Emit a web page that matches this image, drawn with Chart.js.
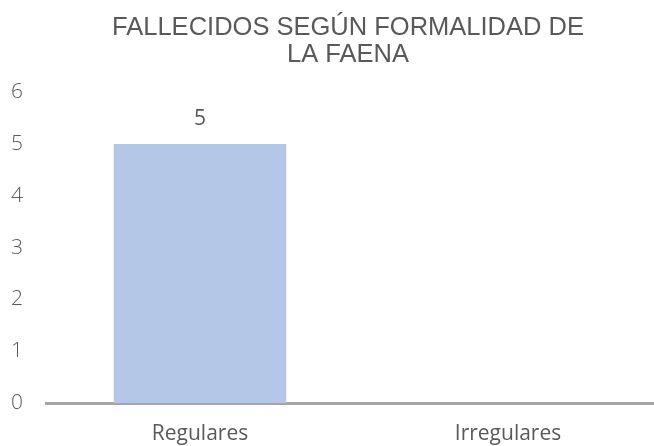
<!DOCTYPE html>
<html>
<head>
<meta charset="utf-8">
<script src="https://cdn.jsdelivr.net/npm/chart.js@4"></script>
<style>
  html, body { margin: 0; padding: 0; background: #fff; overflow: hidden; }
  #wrap { width: 664px; height: 446px; }
</style>
</head>
<body>
<div id="wrap"><canvas id="myChart"></canvas></div>
<script>
const categories = ['Regulares', 'Irregulares'];
const fallecidos = [5, 0];
const yTicks = [0, 1, 2, 3, 4, 5, 6];

const gray = '#595959';

// valor encima de cada barra (solo si > 0)
const valueLabels = {
  id: 'valueLabels',
  afterDatasetsDraw(chart) {
    const ctx = chart.ctx;
    const meta = chart.getDatasetMeta(0);
    ctx.save();
    ctx.font = '21px "Open Sans"';
    ctx.fillStyle = gray;
    ctx.textAlign = 'center';
    ctx.textBaseline = 'middle';
    meta.data.forEach((bar, i) => {
      const v = fallecidos[i];
      if (!v) return;
      ctx.fillText(String(v), bar.x, bar.y - 25);
    });
    ctx.restore();
  }
};

// el título del original queda un poco a la izquierda del centro del área
const titleShift = {
  id: 'titleShift',
  afterLayout(chart) {
    const t = chart.titleBlock;
    if (t) { t.left -= 6; t.right -= 6; }
  }
};

let config = {
  type: 'bar',
  data: {
    labels: categories,
    datasets: [{
      label: 'Fallecidos',
      data: fallecidos,
      backgroundColor: '#B4C7E7',
      borderWidth: 0,
      categoryPercentage: 1,
      barPercentage: 0.56
    }]
  },
  options: {
    responsive: true,
    maintainAspectRatio: false,
    animation: false,
    layout: { padding: { left: 11, right: 2, top: 0, bottom: 0 } },
    plugins: {
      legend: { display: false },
      tooltip: { enabled: false },
      title: {
        display: true,
        fullSize: false,
        text: ['FALLECIDOS SEGÚN FORMALIDAD DE', 'LA FAENA'],
        color: gray,
        font: { family: '"Liberation Sans", Arial, sans-serif', size: 25.5, weight: 'normal', lineHeight: 1.06 },
        padding: { top: 14, bottom: 24 }
      }
    },
    scales: {
      x: {
        grid: { display: false, drawTicks: false },
        border: { display: true, color: '#A6A6A6', width: 3 },
        afterFit(axis) {
          axis.paddingLeft = 0;
          axis.paddingRight = 0;
          axis.height = 43;
        },
        ticks: {
          color: gray,
          padding: 18,
          font: { family: '"Open Sans"', size: 21 }
        }
      },
      y: {
        min: 0,
        max: 6,
        grid: { display: false, drawTicks: false },
        border: { display: false },
        afterBuildTicks(axis) {
          axis.ticks = yTicks.map(v => ({ value: v }));
        },
        afterFit(axis) {
          axis.paddingTop = 0;
          axis.paddingBottom = 0;
          axis.width = 35;
        },
        ticks: {
          color: gray,
          padding: 23,
          font: { family: '"Open Sans"', size: 21, weight: 300 }
        }
      }
    }
  },
  plugins: [valueLabels, titleShift]
};

window.onload = () => {
  new Chart(document.getElementById('myChart'), config);
};
</script>
</body>
</html>
